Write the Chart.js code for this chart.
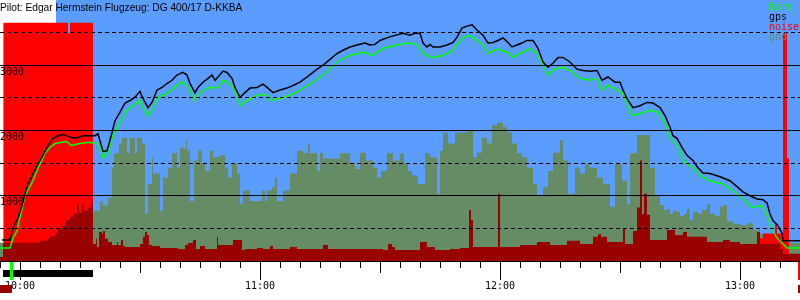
<!DOCTYPE html>
<html><head><meta charset="utf-8">
<script src="https://cdn.jsdelivr.net/npm/chart.js@4/dist/chart.umd.min.js"></script>
<style>html,body{margin:0;padding:0;background:#fff}canvas{display:block}</style>
</head><body>
<canvas id="c" width="800" height="300"></canvas>
<script>
// ---- data (time = minutes after midnight, altitudes in m) ----
const titleText = 'Pilot: Edgar Hermstein Flugzeug: DG 400/17 D-KKBA';
const legendNames = ['baro', 'gps', 'noise', 'gnd'];
const timeRange = [595, 795];
const altRange = [0, 4000];
const skyStart = 595.75;
const motorRun = [595.75, 618.25];
const takeoff = [597.5, 598.25];

const gpsTime = [595.5,597.5,598.25,599.5,600.5,601.25,602,603.25,604.5,605.75,607,608.25,609.5,610.75,612,613,614.25,615.75,617.5,618.75,619.5,620.75,621.75,622.5,623.75,625,626.25,627.5,628.75,630,630.75,632,633,634.25,635.5,636.75,638,639.25,640.75,641.75,642.5,643.75,644.5,645.75,647,648,648.75,649.5,650.75,651.75,653,653.75,655,656.25,657.5,659.25,660.75,662,663.25,665,666.75,668.25,670,671.75,673.25,674.5,675.75,677.5,679.25,680.75,682.5,684.25,686.25,687.5,688.75,690,691.75,693.25,695.75,697.5,698.75,700,700.75,701.75,702.5,703.25,705,706.75,708.25,709.25,710.5,711.75,713,714.25,715.75,717,718.25,719.5,720.75,722,723,724.25,725.5,726.75,728.25,729.5,730.75,732,733.25,734.5,735.75,737.5,739.25,740.75,742.5,744.25,745.5,747,748.75,750,750.75,752,753.25,755,756.75,758.25,760,761.25,762.5,763.25,764.25,765.5,766.75,768.25,769.5,770.75,772.5,775,777.5,779.25,780.75,782.5,784.25,785.75,786.75,787.5,788.25,789.5,790.5,790.75,795];
const gpsAlt = [320,320,510,660,850,1030,1180,1340,1490,1620,1770,1880,1920,1940,1910,1890,1890,1920,1920,1920,1950,1680,1690,1850,2150,2280,2420,2460,2510,2600,2490,2350,2430,2620,2660,2720,2770,2850,2890,2850,2720,2580,2660,2740,2800,2850,2770,2820,2910,2890,2800,2660,2510,2580,2650,2660,2710,2650,2580,2620,2650,2690,2740,2820,2890,2950,3000,3090,3180,3230,3280,3310,3340,3310,3320,3380,3420,3450,3490,3460,3490,3490,3340,3280,3320,3280,3280,3310,3350,3430,3570,3600,3620,3540,3460,3340,3350,3380,3420,3350,3280,3310,3340,3380,3380,3260,3050,2970,3030,3120,3120,3050,2940,2920,2910,2920,2770,2820,2740,2740,2620,2460,2350,2380,2430,2420,2350,2230,2050,1920,1880,1740,1620,1540,1430,1350,1340,1290,1230,1140,1060,1000,950,940,890,720,620,540,430,310,310];

const baroTime = [595,597.5,598.25,599.25,601.25,603,604.5,606.25,607.5,608.75,610.5,611.75,612.75,615,617.5,619.25,620.5,620.75,622,623.25,625,626.75,628.25,630,630.75,632,633.25,634.5,636.75,639.25,640.75,642.5,643.5,645,647,649.25,650.75,652.5,654.25,655,656.75,659.25,661.75,662.5,665,667.5,670,673.25,675.75,677.5,680,682.5,685.75,688.25,690.75,694.25,696.75,699.25,700.75,703,705.75,708.25,710.5,712.5,714.25,716.25,717,719.25,721.75,723.25,725,727.5,729.25,730.75,732,733.75,735.75,737.5,740,742.5,744.25,745.5,747,749.25,750.5,751.75,753,755,757.5,759.5,761.25,762.5,764.25,766.25,768.25,770,772.5,775.75,778.25,780.75,783,785.5,787,788,789.25,790.75,791.75,795];
const baroAlt = [200,200,350,460,1000,1200,1420,1650,1740,1800,1820,1830,1770,1800,1820,1800,1660,1580,1650,1920,2120,2310,2380,2460,2350,2230,2350,2510,2570,2690,2750,2620,2460,2570,2660,2650,2770,2720,2540,2380,2460,2540,2550,2460,2490,2540,2620,2740,2850,2950,3080,3150,3200,3150,3260,3310,3340,3320,3180,3120,3150,3230,3420,3460,3380,3280,3180,3250,3200,3120,3180,3250,3180,3000,2850,2940,2970,2920,2800,2770,2800,2620,2690,2620,2580,2420,2230,2260,2310,2280,2120,1890,1770,1510,1430,1310,1230,1180,1080,950,820,850,660,490,350,260,200,200];

const noiseTime = [595,596,612,612.5,618.25,784.25,785,785.75,787.5,788.75,789.25,790.75,791.75,792.25,795];
const noiseLevel = [0,3650,3490,3650,0,445,350,420,420,550,420,3490,1570,0,0];

const gndTime = [595,618.25,620,620.75,622,623,623.5,624.75,625.5,626.75,627.5,628.75,629.25,630.5,631.25,632,633,633.25,635,635.75,637,638,639.25,640,640.75,641.5,641.75,642.5,643.5,644.5,645.5,646.25,647.5,648.25,650,651.25,652,653,654.25,655,655.75,657.5,660.5,661.25,661.75,663,663.75,664.25,665.75,667.5,669.25,670.75,672,672.5,674.25,675,675.75,680,682.5,683.75,685,686.5,688.25,689.25,690.25,691.75,693.25,695,696,697,698,699.5,701.25,702.5,704.25,705,705.75,707,708.75,711.75,713.25,714.25,715.5,716.75,718,719.25,720.75,721.75,723,724.25,725.5,726.75,728.25,729.25,730.75,732,733.25,735,735.75,737,738.75,740,741.25,742.5,744.25,745.75,747.5,748.75,750.5,751.75,752.5,754.25,757.5,758.75,760,761,761.75,762.5,763.25,764.25,765,766,766.75,767.5,768.25,769.5,770.5,771.75,772.5,773.75,775,776,776.75,778.25,780,781.75,783.25,785,786.75,790.75,795];
const gndAlt = [280,770,920,850,970,1430,1650,1800,1890,1650,1890,1650,1890,1800,720,1180,1580,1340,770,1280,1430,1650,1430,1740,1720,1850,1690,920,1540,1690,1490,1380,1690,1590,1620,1430,1280,1490,1340,880,1080,920,1080,920,1080,1130,1280,920,1080,1340,1690,1650,1800,1650,1380,1660,1570,1650,1510,1410,1660,1540,1430,1280,1380,1650,1540,1650,1490,1380,1310,1180,1650,1590,1030,1690,1970,1800,1970,2000,1590,1660,1890,1800,2080,2120,2050,1970,1800,1650,1590,1430,1180,1010,1130,1380,1660,1850,1540,1030,1430,1340,1490,1430,1280,1180,830,1490,1230,870,1650,1930,1430,1000,860,780,800,720,770,750,690,720,800,630,750,720,780,875,720,690,830,860,610,570,550,580,475,415,355,275,275];

const lowTime = [595,595.75,605,606.75,607.5,608.75,609.5,610.5,611.5,612.5,613.5,614.25,614.75,615.5,616,617,617.75,618.25,619,619.25,619.75,620.5,620.75,621.25,622,623,624.25,624.5,625.25,625.75,626.25,630,630.75,631.25,631.75,632.25,633,635,639.5,641.25,642,643.25,644,645,646.25,649.25,649.5,653.25,655.5,656.25,659.25,660.75,662.5,663.25,667.5,669.25,675.75,677,690.75,692,693,693.75,700,701.75,703.75,707.5,710,712.25,712.75,713.25,719.5,720,725,729.25,732.5,736.75,740,743.25,744.5,745.25,746.75,750.75,751.25,753.25,754.25,755,755.5,756,756.75,757.5,761.75,763.75,765.75,766.75,771.75,775.75,777.5,780,784.25,785,790,790.75,795];
const lowLevel = [60,280,310,340,380,430,490,540,620,680,720,850,740,880,770,820,910,260,340,215,445,415,460,340,290,245,290,245,320,230,215,260,370,445,400,245,230,200,185,245,275,320,185,230,185,370,245,320,170,185,200,185,230,185,215,185,245,185,170,260,215,170,290,215,170,185,200,780,630,215,1030,215,245,290,245,310,260,370,410,370,290,490,260,460,820,1540,720,1030,710,320,475,400,445,370,290,320,290,260,445,260,185,110,110];

// ---- colours ----
const SKY = '#5b9cff', GND = '#668c66', LOW = '#990000', NOISE = '#ff0000', BARO = '#00ff00', GPS = '#000000';

const xy = (ts, vs) => ts.map((t, i) => ({x: t, y: vs[i]}));
const fmt = v => { const h = Math.floor(v / 60), m = Math.round(v % 60); return h + ':' + String(m).padStart(2, '0'); };

const bgPlugin = {
  id: 'bg',
  beforeDraw(chart) {
    const {ctx, chartArea: a, scales: {x}} = chart;
    ctx.save();
    ctx.fillStyle = '#fff';
    ctx.fillRect(0, 0, chart.width, chart.height);
    const sx = Math.round(x.getPixelForValue(skyStart));
    ctx.fillStyle = SKY;
    ctx.fillRect(sx, a.top, a.right - sx, a.bottom - a.top);
    ctx.fillStyle = '#fff';
    ctx.fillRect(0, 0, 56, 23);
    ctx.restore();
  },
  afterDraw(chart) {
    const {ctx, chartArea: a, scales: {x}} = chart;
    ctx.save();
    // tick marks
    ctx.strokeStyle = '#000'; ctx.lineWidth = 1;
    for (let t = timeRange[0]; t <= timeRange[1]; t += 5) {
      const px = Math.round(x.getPixelForValue(t)) + 0.5;
      const len = t % 60 === 0 ? 19 : (t % 30 === 0 ? 12 : 7);
      ctx.beginPath(); ctx.moveTo(px, a.bottom); ctx.lineTo(px, a.bottom + len); ctx.stroke();
    }
    // motor run bar and takeoff marker
    const m0 = Math.round(x.getPixelForValue(motorRun[0])), m1 = Math.round(x.getPixelForValue(motorRun[1]));
    ctx.fillStyle = '#000'; ctx.fillRect(m0, a.bottom + 9, m1 - m0, 7);
    const k0 = Math.round(x.getPixelForValue(takeoff[0])), k1 = Math.round(x.getPixelForValue(takeoff[1]));
    ctx.fillStyle = BARO; ctx.fillRect(k0, a.bottom + 1, Math.max(3, k1 - k0), 18);
    // small end markers
    ctx.fillStyle = LOW; ctx.fillRect(0, a.bottom + 24, 12, 8);
    ctx.fillStyle = NOISE; ctx.fillRect(a.right - 2, a.bottom + 1, 2, 18);
    ctx.fillStyle = LOW; ctx.fillRect(a.right - 2, a.bottom + 24, 2, 8);
    // title
    ctx.fillStyle = '#000';
    ctx.font = '10.2px "Liberation Sans", Arial, sans-serif';
    ctx.textBaseline = 'alphabetic'; ctx.textAlign = 'left';
    ctx.fillText(titleText, 0, 11);
    // legend
    ctx.font = '10px "DejaVu Sans Mono", monospace';
    const cols = [BARO, GPS, NOISE, GND];
    legendNames.forEach((n, i) => { ctx.fillStyle = cols[i]; ctx.fillText(n, 769, 10 + i * 10); });
    ctx.restore();
  }
};

Chart.defaults.font.family = '"DejaVu Sans Mono", monospace';
Chart.defaults.font.size = 10;

const area = (label, ts, vs, color) => ({
  label, data: xy(ts, vs), stepped: 'before', fill: 'origin',
  backgroundColor: color, borderColor: 'rgba(0,0,0,0)', borderWidth: 0, pointRadius: 0
});
const line = (label, ts, vs, color) => ({
  label, data: xy(ts, vs), fill: false, borderColor: color, borderWidth: 1.5,
  pointRadius: 0, tension: 0
});

new Chart(document.getElementById('c'), {
  type: 'line',
  data: {
    datasets: [
      line('gps', gpsTime, gpsAlt, GPS),
      line('baro', baroTime, baroAlt, BARO),
      area('level', lowTime, lowLevel, LOW),
      area('noise', noiseTime, noiseLevel, NOISE),
      area('gnd', gndTime, gndAlt, GND)
    ]
  },
  options: {
    responsive: false, animation: false, devicePixelRatio: 1, events: [],
    layout: {padding: 0},
    plugins: {legend: {display: false}, title: {display: false}, tooltip: {enabled: false}},
    scales: {
      x: {
        type: 'linear', min: timeRange[0], max: timeRange[1],
        afterFit: s => { s.height = 39; s.paddingLeft = 0; s.paddingRight = 0; },
        grid: {display: false, drawTicks: false},
        border: {display: true, color: '#000', width: 1},
        ticks: {stepSize: 5, autoSkip: false, maxRotation: 0, padding: 19, color: '#000',
          callback: v => (v % 60 === 0 ? fmt(v) : '')}
      },
      y: {
        type: 'linear', min: altRange[0], max: altRange[1],
        afterFit: s => { s.width = 0; s.paddingTop = 0; s.paddingBottom = 0; },
        grid: {color: c => (c.tick && c.tick.value === altRange[1]) ? 'rgba(0,0,0,0)' : '#000',
          lineWidth: 1, drawTicks: false, z: 1},
        border: {display: false, dash: c => (c.tick && c.tick.value % 1000 !== 0) ? [4, 3] : []},
        ticks: {stepSize: 500, mirror: true, padding: 0, labelOffset: 7, color: '#000', z: 1,
          callback: v => (v % 1000 === 0 && v > 0 && v < 4000) ? String(v) : ''}
      }
    }
  },
  plugins: [bgPlugin]
});
</script>
</body></html>
